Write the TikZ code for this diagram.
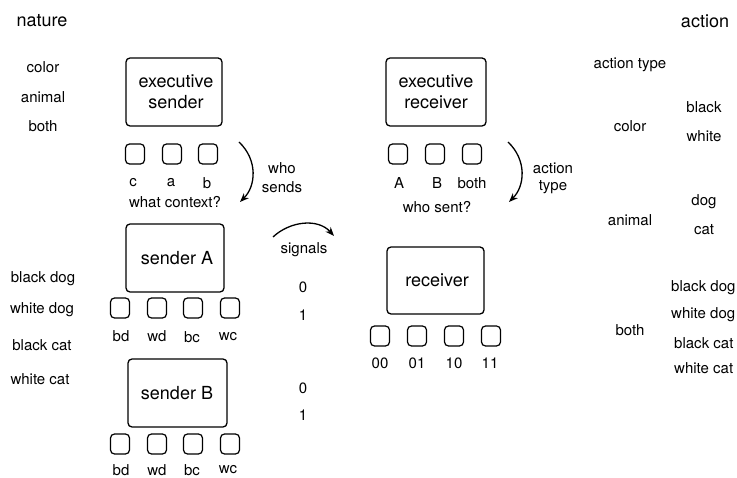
\documentclass[tikz,border=0pt]{standalone}
\usepackage{fontspec}
\setmainfont{TeX Gyre Heros}
\usetikzlibrary{arrows.meta}
\tikzset{
  lbl/.style={font=\fontsize{15}{17}\selectfont, inner sep=0pt},
  big/.style={font=\fontsize{18}{21}\selectfont, inner sep=0pt},
  bigbox/.style={draw, line width=1.3pt, rounded corners=4pt},
  sq/.style={draw, line width=1.2pt, rounded corners=4pt, minimum width=19pt, minimum height=20pt, inner sep=0pt},
  curvearrow/.style={line width=1.3pt, -{Stealth[length=9pt,width=7pt]}},
}
\begin{document}
\begin{tikzpicture}[x=1pt,y=-1pt]
\useasboundingbox (0,0) rectangle (737,478);
% titles
\node[big] (nature) at (42,21) {nature};
\node[big] (action) at (705,21) {action};
% left nature labels
\node[lbl] (ncolor) at (43,67) {color};
\node[lbl] (nanimal) at (43,97) {animal};
\node[lbl] (nboth) at (43,126) {both};
\node[lbl] (nbd) at (43,279) {black dog};
\node[lbl] (nwd) at (42,310) {white dog};
\node[lbl] (nbc) at (42,345) {black cat};
\node[lbl] (nwc) at (40,379) {white cat};
% executive sender
\draw[bigbox] (126,58) rectangle (222,126);
\node[big, align=center] (exs) at (176,92) {executive\\sender};
\node[sq] (s1) at (135,154) {};
\node[sq] (s2) at (172,154) {};
\node[sq] (s3) at (208,154) {};
\node[lbl] (lc) at (133,183) {c};
\node[lbl] (la) at (171,183) {a};
\node[lbl] (lb) at (207,183) {b};
\node[lbl] (wc) at (175,202) {what context?};
\coordinate (ws1) at (239,142);
\coordinate (ws2) at (240,202);
\draw[curvearrow] (ws1) .. controls (258,160) and (256,186) .. (ws2);
\node[lbl] (who) at (282,168) {who};
\node[lbl] (sends) at (282,187) {sends};
% sender A
\draw[bigbox] (126,224) rectangle (224,292);
\node[big] (sA) at (177,258) {sender A};
\node[sq] (a1) at (120,308) {};
\node[sq] (a2) at (157,308) {};
\node[sq] (a3) at (193,308) {};
\node[sq] (a4) at (230,308) {};
\node[lbl] (abd) at (121,336) {bd};
\node[lbl] (awd) at (157,336) {wd};
\node[lbl] (abc) at (192,337) {bc};
\node[lbl] (awc) at (228,337) {wc};
% sender B
\draw[bigbox] (128,359) rectangle (227,427);
\node[big] (sB) at (177,393) {sender B};
\node[sq] (b1) at (120,444) {};
\node[sq] (b2) at (157,444) {};
\node[sq] (b3) at (193,444) {};
\node[sq] (b4) at (230,444) {};
\node[lbl] (bbd) at (121,470) {bd};
\node[lbl] (bwd) at (157,470) {wd};
\node[lbl] (bbc) at (192,470) {bc};
\node[lbl] (bwc) at (228,470) {wc};
% signals
\coordinate (sg1) at (273,237);
\coordinate (sg2) at (334,236);
\draw[curvearrow] (sg1) .. controls (290,221) and (318,218) .. (sg2);
\node[lbl] (signals) at (304,250) {signals};
\node[lbl] (z1) at (303,287) {0};
\node[lbl] (o1) at (303,315) {1};
\node[lbl] (z2) at (303,388) {0};
\node[lbl] (o2) at (303,415) {1};
% executive receiver
\draw[bigbox] (386,58) rectangle (486,126);
\node[big, align=center] (exr) at (436,92) {executive\\receiver};
\node[sq] (r1) at (398,154) {};
\node[sq] (r2) at (435,154) {};
\node[sq] (r3) at (472,154) {};
\node[lbl] (lA) at (399,183) {A};
\node[lbl] (lB) at (437,183) {B};
\node[lbl] (lboth) at (472,183) {both};
\node[lbl] (wsent) at (437,207) {who sent?};
\coordinate (at1) at (508,142);
\coordinate (at2) at (509,202);
\draw[curvearrow] (at1) .. controls (527,160) and (525,186) .. (at2);
\node[lbl] (act) at (553,168) {action};
\node[lbl] (typ) at (553,187) {type};
% receiver
\draw[bigbox] (387,247) rectangle (484,314);
\node[big] (rec) at (437,280) {receiver};
\node[sq] (q1) at (380,336) {};
\node[sq] (q2) at (417,336) {};
\node[sq] (q3) at (454,336) {};
\node[sq] (q4) at (491,336) {};
\node[lbl] (l00) at (380,363) {00};
\node[lbl] (l01) at (417,363) {01};
\node[lbl] (l10) at (454,363) {10};
\node[lbl] (l11) at (490,363) {11};
% action labels
\node[lbl] (atype) at (630,65) {action type};
\node[lbl] (acolor) at (630,126) {color};
\node[lbl] (ablack) at (704,107) {black};
\node[lbl] (awhite) at (704,136) {white};
\node[lbl] (aanimal) at (630,220) {animal};
\node[lbl] (adog) at (704,202) {dog};
\node[lbl] (acat) at (704,230) {cat};
\node[lbl] (aboth) at (630,330) {both};
\node[lbl, anchor=west] (abd2) at (671,288) {black dog};
\node[lbl, anchor=west] (awd2) at (671,315) {white dog};
\node[lbl, anchor=west] (abc2) at (674,343) {black cat};
\node[lbl, anchor=west] (awc2) at (674,368) {white cat};
\end{tikzpicture}
\end{document}
